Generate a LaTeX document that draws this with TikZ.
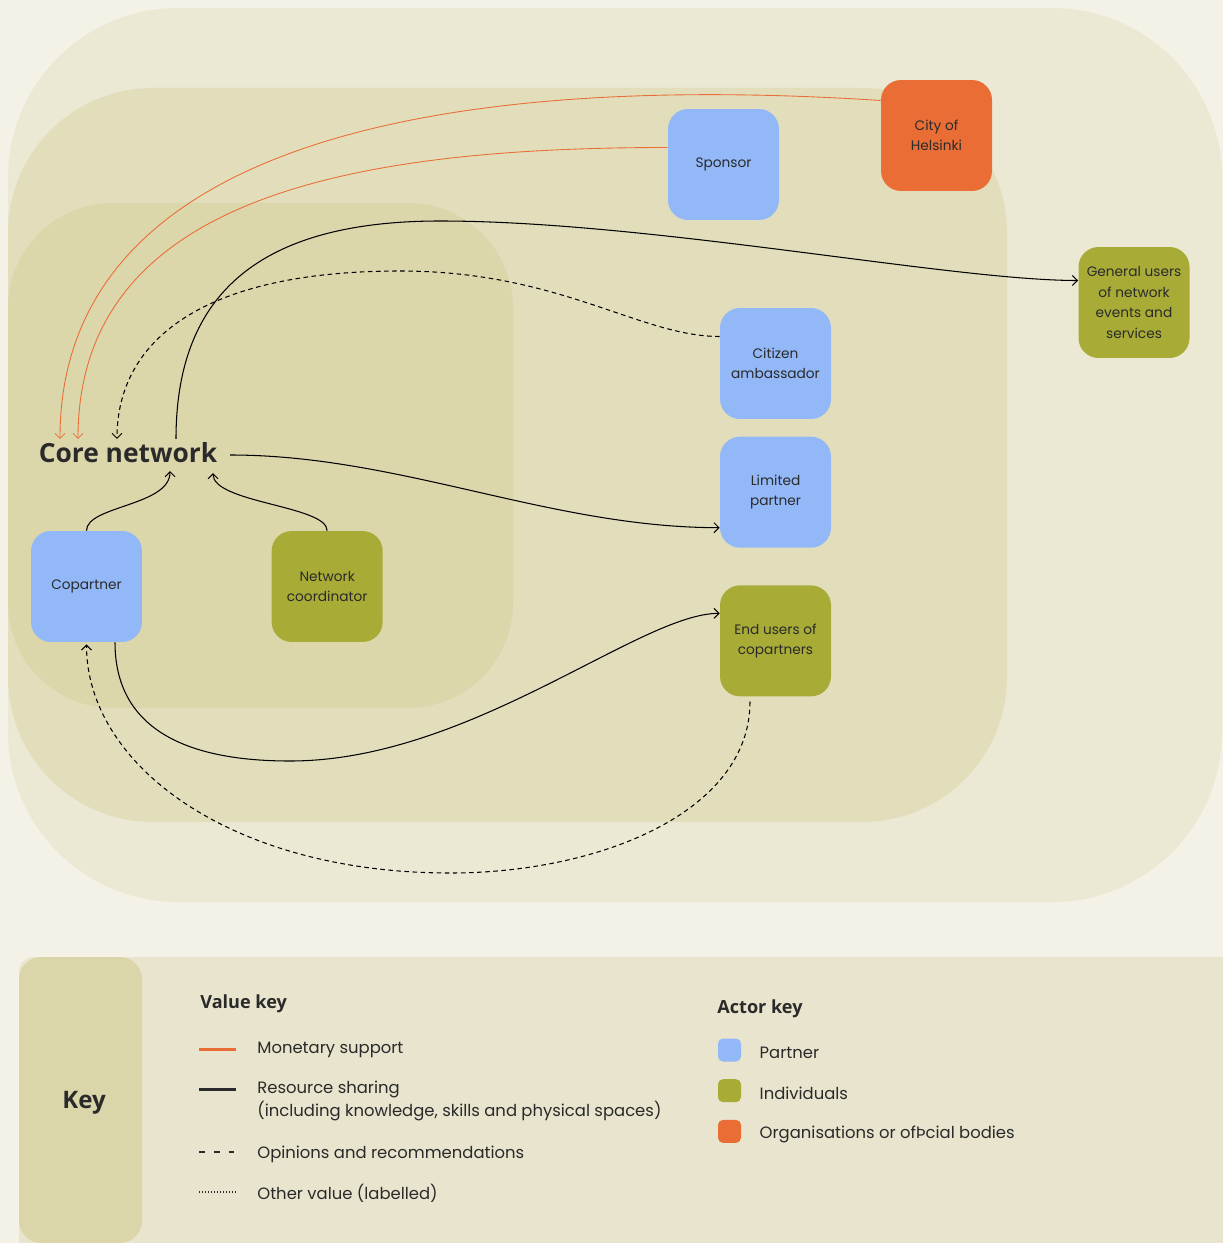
\documentclass[tikz,border=0pt]{standalone}
\usepackage{fontspec}
\setmainfont{Poppins}
\newfontfamily\headfont{Open Sans}
\usepackage{tikz}
\usetikzlibrary{arrows.meta,positioning,calc}
\definecolor{pagebg}{HTML}{F4F2E6}
\definecolor{outerzone}{HTML}{EBE8D3}
\definecolor{midzone}{HTML}{E2DEBC}
\definecolor{innerzone}{HTML}{DCD6AB}
\definecolor{keypanel}{HTML}{E8E4CE}
\definecolor{keycol}{HTML}{DBD6A9}
\definecolor{partnerblue}{HTML}{92B8F8}
\definecolor{indivolive}{HTML}{A8AC37}
\definecolor{orgorange}{HTML}{EA6D35}
\definecolor{ink}{HTML}{2A2A2A}

\begin{document}
\begin{tikzpicture}[
  x=0.02cm, y=-0.02cm,
  actor/.style={rectangle, rounded corners=0.4cm,
               minimum width=2.22cm, minimum height=2.22cm,
               align=center, text=ink, inner sep=1pt,
               font=\fontsize{7.8}{11.6}\selectfont},
  partner/.style={actor, fill=partnerblue},
  indiv/.style={actor, fill=indivolive},
  org/.style={actor, fill=orgorange},
  money/.style={-{Straight Barb[length=1mm,width=2mm]}, draw=orgorange, line width=0.5pt},
  share/.style={-{Straight Barb[length=1mm,width=2mm]}, draw=black, line width=0.6pt},
  opinion/.style={share, dash pattern=on 2.6pt off 2pt},
  keytext/.style={inner sep=0pt, text=ink, align=left,
                  font=\fontsize{9.35}{12.6}\selectfont},
  keyhead/.style={inner sep=0pt, text=ink, font=\headfont\bfseries\fontsize{10.3}{12}\selectfont},
  swatch/.style={rectangle, rounded corners=0.1cm, minimum size=0.46cm, inner sep=0pt},
]
\useasboundingbox (0,0) rectangle (1223,1243);
\clip (0,0) rectangle (1223,1243);
\fill[pagebg] (0,0) rectangle (1223,1243);

% Zones
\fill[outerzone, rounded corners=3.4cm] (8,8) rectangle (1222,902);
\fill[midzone, rounded corners=2.9cm] (8,88) rectangle (1007,822);
\fill[innerzone, rounded corners=2.1cm] (8,203) rectangle (513,708);

% Actors
\node[org] (city) at (936.5,135.5) {City of\\Helsinki};
\node[partner] (sponsor) at (723.5,164.5) {Sponsor};
\node[indiv] (general) at (1134,302.5) {General users\\of network\\events and\\services};
\node[partner] (citizen) at (775.5,363.5) {Citizen\\ambassador};
\node[partner, below=0.34cm of citizen] (limited) {Limited\\partner};
\node[indiv, below=0.74cm of limited] (endusers) {End users of\\copartners};
\node[partner] (copartner) at (86.5,586.5) {Copartner};
\node[indiv, right=2.58cm of copartner] (coord) {Network\\coordinator};
\node[inner sep=2pt, text=ink, font=\headfont\bfseries\fontsize{15}{18}\selectfont] (core) at (128,453) {Core network};

% Value flows
\draw[money] ($(city.west)+(0,-35)$) .. controls +(-430,-28) and +(0,-300) .. ($(core.north)+(-68,0)$);
\draw[money] ($(sponsor.west)+(0,-17)$) .. controls +(-320,0) and +(0,-240) .. ($(core.north)+(-50,0)$);
\draw[opinion] ($(citizen.west)+(0,-27)$) .. controls +(-80,0) and +(160,0) .. (400,271)
  .. controls +(-200,0) and +(0,-97) .. ($(core.north)+(-11,0)$);
\draw[share] ($(core.north)+(48,0)$) .. controls +(0,-137) and +(-190,0) .. (440,221)
  .. controls +(210,0) and +(-128,0) .. ($(general.west)+(0,-22)$);
\draw[share] ($(core.east)+(9,2)$) .. controls +(170,0) and +(-170,0) .. ($(limited.west)+(0,35.5)$);
\draw[share] (copartner.north) .. controls +(0,-25) and +(0,35) .. ($(core.south)+(42,4)$);
\draw[share] (coord.north) .. controls +(0,-25) and +(0,30) .. ($(core.south)+(85,6)$);
\draw[share] ($(copartner.south)+(28.5,0)$) .. controls +(0,100) and +(-80,0) .. (290,761)
  .. controls +(180,0) and +(-80,0) .. ($(endusers.west)+(0,-27.5)$);
\draw[opinion] ($(endusers.south)+(-25.5,5)$) .. controls +(0,110) and +(150,0) .. (450,873)
  .. controls +(-220,0) and +(0,120) .. ($(copartner.south)+(0,2)$);

% Key
\fill[keypanel, rounded corners=0.3cm] (19,957) rectangle (1300,1300);
\fill[keycol, rounded corners=0.45cm] (19,957) rectangle (142,1243);
\node[keyhead, font=\headfont\bfseries\fontsize{13.7}{16}\selectfont] (keytitle) at (84,1103) {Key};

\node[keyhead, anchor=west] (valuekey) at (200,1004) {Value key};
\node[keytext, anchor=west] (lmoney) at (257,1050) {Monetary support};
\node[keytext, anchor=west] (lshare) at (257,1101) {Resource sharing\\(including knowledge, skills and physical spaces)};
\node[keytext, anchor=west] (lopinion) at (257,1154) {Opinions and recommendations};
\node[keytext, anchor=west] (lother) at (257,1193) {Other value (labelled)};
\draw[orgorange, line width=1.7pt] ($(lmoney.west)+(-58,-1)$) -- +(37,0);
\draw[ink, line width=1.7pt] ($(lshare.west)+(-58,-12)$) -- +(37,0);
\draw[ink, line width=1.1pt, dash pattern=on 3.4pt off 5pt] ($(lopinion.west)+(-58,-2)$) -- +(37,0);
\draw[ink, line width=0.7pt, dash pattern=on 0.6pt off 1.1pt] ($(lother.west)+(-58,-1)$) -- +(37,0);

\node[keyhead, anchor=west] (actorkey) at (717,1009) {Actor key};
\node[swatch, fill=partnerblue] (spartner) at (729.5,1050) {};
\node[swatch, fill=indivolive, below=0.34cm of spartner] (sindiv) {};
\node[swatch, fill=orgorange, below=0.34cm of sindiv] (sorg) {};
\node[keytext, right=0.36cm of spartner, yshift=-1.5pt] (lpartner) {Partner};
\node[keytext, right=0.36cm of sindiv, yshift=-1.5pt] (lindiv) {Individuals};
\node[keytext, right=0.36cm of sorg, yshift=-1.5pt] (lorg) {Organisations or ofÞcial bodies};
\end{tikzpicture}
\end{document}
